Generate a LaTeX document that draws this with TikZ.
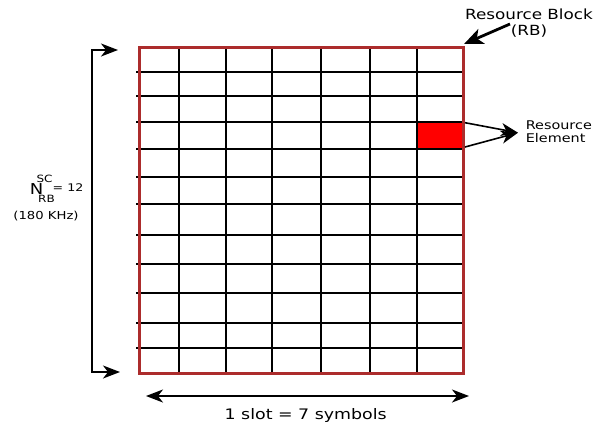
\documentclass[tikz,border=0pt]{standalone}
\usepackage{fontspec}
\setmainfont{DejaVu Sans}[FakeStretch=1.2]
\usetikzlibrary{arrows.meta}
\definecolor{rbborder}{RGB}{172,44,44}
\tikzset{
  lbl/.style={inner sep=0pt,font=\fontsize{#1}{#1}\selectfont},
  lbl/.default=14,
  gridline/.style={black,line width=1.8pt}
}
\begin{document}
\begin{tikzpicture}[x=1pt,y=-1pt,line width=1.6pt,>={Stealth[length=17pt,width=13pt,inset=5pt]}]
\useasboundingbox (0,0) rectangle (597,426);
% resource grid: 12 subcarriers x 7 symbols
\fill[red] (417.3,122) rectangle (463,148.7);
\foreach \y in {71.7,95.7,122,148.7,176.7,204.3,234.7,263.7,293,322.7,348.3}
  \draw[gridline] (136,\y) -- (463,\y);
\foreach \x in {179.3,226,271.7,320.7,370,417.3}
  \draw[gridline] (\x,47.3) -- (\x,373.3);
\draw[rbborder,line width=3pt] (139.3,47.3) rectangle (463,373.3);
% resource block label
\node[lbl,align=center] (rb) at (529,23) {Resource Block\\[2pt](RB)};
\coordinate (rbtail) at (510,24);
\coordinate (rbtip) at (464,44);
\draw[-{Stealth[length=19pt,width=16pt,inset=5pt]},line width=2.8pt] (rbtail) -- (rbtip);
% resource element label
\node[lbl=12,align=left,anchor=west] (re) at (525,132) {Resource\\[1pt]Element};
\coordinate (retop) at (465,122.7);
\coordinate (rebot) at (465,147);
\coordinate (retip) at (518,132.7);
\draw[->] (retop) -- (retip);
\draw[->] (rebot) -- (retip);
% subcarrier bracket on the left
\coordinate (lt) at (118,50);
\coordinate (lb) at (120,372);
\draw[<->] (lt) -- ++(-26,0) |- (lb);
\node[lbl=15] (n) at (36.5,189) {N};
\node[lbl=10] (sc) at (44.5,179) {SC};
\node[lbl=10] (rbsub) at (46.5,199) {RB};
\node[lbl=10.5] (eq) at (68,187.5) {= 12};
\node[lbl=11] (khz) at (46,216) {(180 KHz)};
% slot arrow at the bottom
\coordinate (bl) at (146,396);
\coordinate (br) at (469,396);
\draw[<->] (bl) -- (br);
\node[lbl=14.5] (slot) at (305.7,415) {1 slot = 7 symbols};
\end{tikzpicture}
\end{document}
